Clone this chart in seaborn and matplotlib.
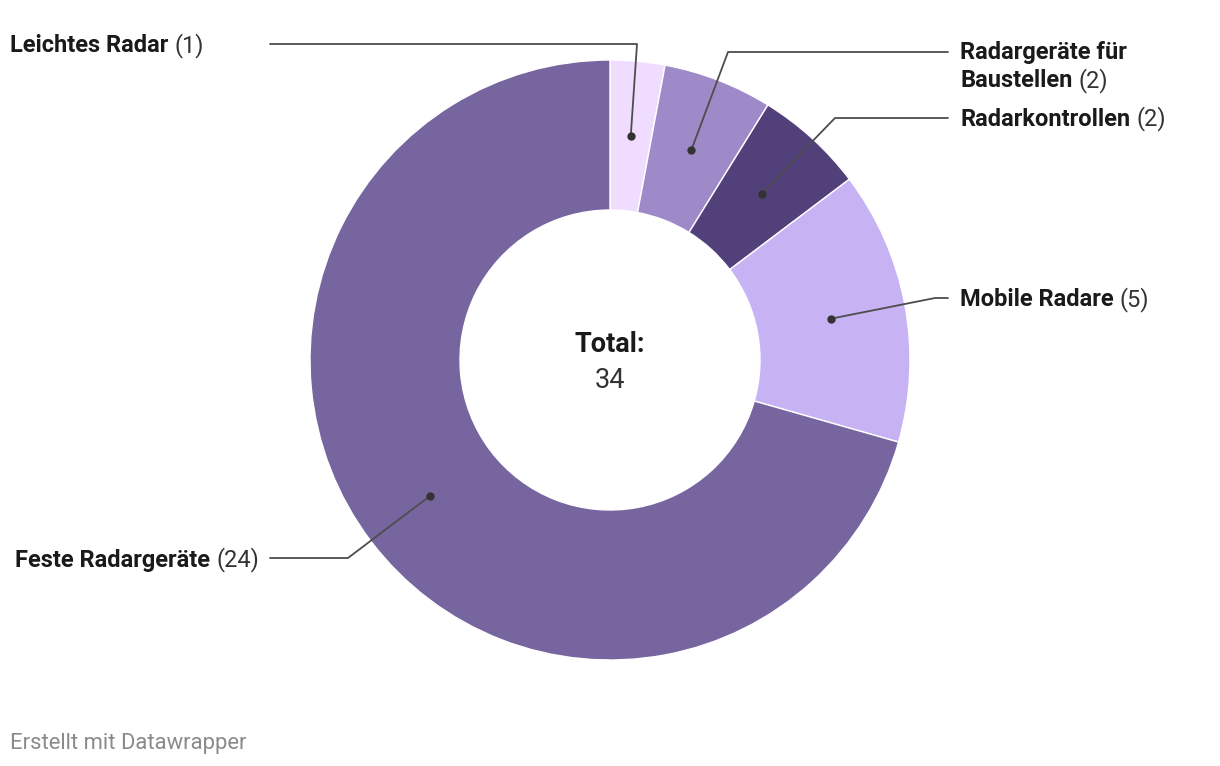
import matplotlib
matplotlib.use("Agg")
import matplotlib.pyplot as plt
import seaborn as sns
import numpy as np

categories = ["Leichtes Radar", "Radargeräte für\nBaustellen", "Radarkontrollen", "Mobile Radare", "Feste Radargeräte"]
values = [1, 2, 2, 5, 24]
colors = ["#f0dcff", "#9f8ac9", "#52407a", "#c7b3f4", "#7765a0"]
total_label = "Total:"
footer = "Erstellt mit Datawrapper"

sns.set_theme(style="white")
plt.rcParams['font.family'] = ['Roboto', 'DejaVu Sans']

W, H = 1220, 766
fig = plt.figure(figsize=(W / 100, H / 100), dpi=100)
ax = fig.add_axes([0, 0, 1, 1])
ax.set_xlim(0, W)
ax.set_ylim(0, H)
ax.axis("off")

def Y(py):
    return H - py

cx, cy = 610, Y(360)
R = 300
wedges, _ = ax.pie(values, colors=colors, startangle=90, counterclock=False,
                   radius=R, center=(cx, cy), frame=True,
                   wedgeprops=dict(width=150, edgecolor="white", linewidth=1))
ax.set_xlim(0, W)
ax.set_ylim(0, H)
ax.set_aspect("equal")
ax.axis("off")

# label layout: (elbow point, line end, text x, text y, align)
layout = [
    ((637, 44), (270, 44), 10, 46, "left"),
    ((728, 52), (948, 52), 960, 53, "left"),
    ((835, 118), (948, 118), 960, 119, "left"),
    ((935, 298), (948, 298), 960, 300, "left"),
    ((348, 558), (270, 558), 259, 560, "right"),
]

fig.canvas.draw()
renderer = fig.canvas.get_renderer()
fs = 17.0
line_col = "#4d4d4d"
for w, cat, val, (elb, end, tx, ty, al) in zip(wedges, categories, values, layout):
    mid = np.deg2rad((w.theta1 + w.theta2) / 2)
    r_mid = R - 75
    dx, dy = cx + r_mid * np.cos(mid), cy + r_mid * np.sin(mid)
    ax.plot([dx, elb[0], end[0]], [dy, Y(elb[1]), Y(end[1])], color=line_col, lw=1.3, zorder=5)
    ax.plot([dx], [dy], "o", color="#333333", ms=5, zorder=6)
    lines = cat.split("\n")
    for i, ln in enumerate(lines):
        yy = Y(ty + i * 27.5)
        last = i == len(lines) - 1
        if al == "left":
            t = ax.text(tx, yy, ln, fontsize=fs, fontweight="bold", color="#1a1a1a",
                        ha="left", va="center")
            if last:
                bb = t.get_window_extent(renderer)
                ax.text(bb.x1 + 6, yy, f"({val})", fontsize=fs, color="#333333",
                        ha="left", va="center")
        else:
            t = ax.text(tx, yy, f"({val})", fontsize=fs, color="#333333", ha="right", va="center")
            bb = t.get_window_extent(renderer)
            ax.text(bb.x0 - 6, yy, ln, fontsize=fs, fontweight="bold", color="#1a1a1a",
                    ha="right", va="center")

ax.text(cx, Y(344), total_label, fontsize=19.5, fontweight="bold", color="#1a1a1a", ha="center", va="center")
ax.text(cx, Y(380), str(sum(values)), fontsize=19.5, color="#333333", ha="center", va="center")
ax.text(10, Y(743), footer, fontsize=15.8, color="#8a8a8a", ha="left", va="center")

fig.savefig("out.png", dpi=100)
